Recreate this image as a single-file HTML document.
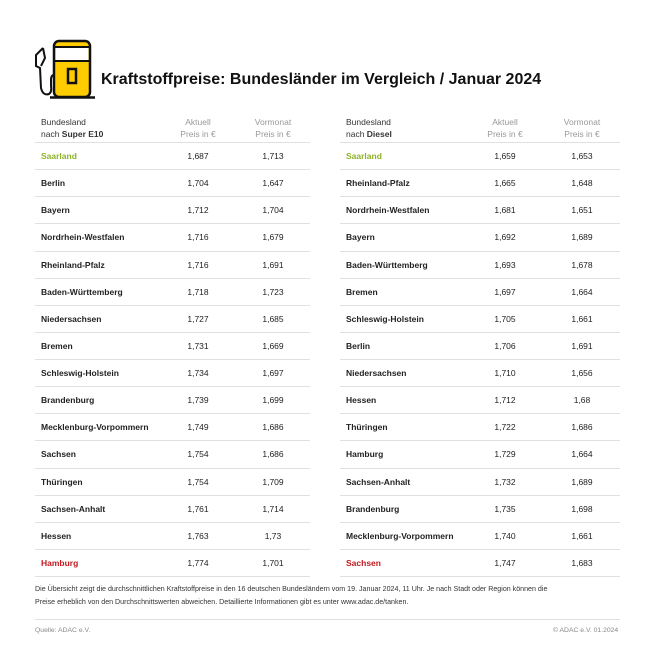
<!DOCTYPE html><html><head><meta charset="utf-8"><style>
body{margin:0;width:668px;height:663px;background:#fff;font-family:"Liberation Sans",sans-serif;color:#222;position:relative;overflow:hidden}
.a{position:absolute;white-space:nowrap}
.h{font-size:8.5px;color:#333;line-height:12px}
.g{color:#999;text-align:center;width:60px}
.n{font-size:8.5px;font-weight:bold}
.v{font-size:8.5px;text-align:center;width:50px}
.l{position:absolute;height:1px;background:#e0e0e0}
</style></head><body>
<svg class="a" style="left:33px;top:38px" width="65" height="65" viewBox="0 0 65 65">
<rect x="21" y="3" width="36" height="56" rx="5" fill="#fc0" stroke="#111" stroke-width="2.5"/>
<rect x="22.5" y="9" width="33" height="14" fill="#fff"/>
<line x1="21" y1="9" x2="57" y2="9" stroke="#111" stroke-width="2"/>
<line x1="21" y1="23" x2="57" y2="23" stroke="#111" stroke-width="2"/>
<rect x="35" y="31" width="8" height="14" fill="none" stroke="#111" stroke-width="2.5"/>
<line x1="17" y1="59.5" x2="62" y2="59.5" stroke="#111" stroke-width="2.5"/>
<path d="M10 10 L3 17 L3 28 L7 30 L8 50 Q10 58 16 56 Q19 54 18 48 L18 42 Q18 37 21 37" fill="none" stroke="#111" stroke-width="2"/>
<path d="M10 10 L12 20 L8 28" fill="none" stroke="#111" stroke-width="2"/>
</svg>
<div class="a" style="left:101px;top:71px;font-size:16px;font-weight:bold;color:#111">Kraftstoffpreise: Bundesländer im Vergleich / Januar 2024</div>

<div class="a h" style="left:41px;top:116px">Bundesland<br>nach <b>Super E10</b></div>
<div class="a h g" style="left:168px;top:116px">Aktuell<br>Preis in €</div>
<div class="a h g" style="left:243px;top:116px">Vormonat<br>Preis in €</div>
<div class="a h" style="left:346px;top:116px">Bundesland<br>nach <b>Diesel</b></div>
<div class="a h g" style="left:475px;top:116px">Aktuell<br>Preis in €</div>
<div class="a h g" style="left:552px;top:116px">Vormonat<br>Preis in €</div>
<div id="t"></div>
<div class="a" style="left:35px;top:583px;font-size:7.1px;line-height:12.5px;color:#333">Die Übersicht zeigt die durchschnittlichen Kraftstoffpreise in den 16 deutschen Bundesländern vom 19. Januar 2024, 11 Uhr. Je nach Stadt oder Region können die<br>Preise erheblich von den Durchschnittswerten abweichen. Detaillierte Informationen gibt es unter www.adac.de/tanken.</div>
<div class="l" style="left:35px;top:619px;width:585px"></div>
<div class="a" style="left:35px;top:627px;font-size:6.8px;color:#888">Quelle: ADAC e.V.</div>
<div class="a" style="left:553px;top:627px;font-size:6.8px;color:#888">© ADAC e.V. 01.2024</div>
<script>
var L=[["Saarland","1,687","1,713"],["Berlin","1,704","1,647"],["Bayern","1,712","1,704"],["Nordrhein-Westfalen","1,716","1,679"],["Rheinland-Pfalz","1,716","1,691"],["Baden-Württemberg","1,718","1,723"],["Niedersachsen","1,727","1,685"],["Bremen","1,731","1,669"],["Schleswig-Holstein","1,734","1,697"],["Brandenburg","1,739","1,699"],["Mecklenburg-Vorpommern","1,749","1,686"],["Sachsen","1,754","1,686"],["Thüringen","1,754","1,709"],["Sachsen-Anhalt","1,761","1,714"],["Hessen","1,763","1,73"],["Hamburg","1,774","1,701"]];
var R=[["Saarland","1,659","1,653"],["Rheinland-Pfalz","1,665","1,648"],["Nordrhein-Westfalen","1,681","1,651"],["Bayern","1,692","1,689"],["Baden-Württemberg","1,693","1,678"],["Bremen","1,697","1,664"],["Schleswig-Holstein","1,705","1,661"],["Berlin","1,706","1,691"],["Niedersachsen","1,710","1,656"],["Hessen","1,712","1,68"],["Thüringen","1,722","1,686"],["Hamburg","1,729","1,664"],["Sachsen-Anhalt","1,732","1,689"],["Brandenburg","1,735","1,698"],["Mecklenburg-Vorpommern","1,740","1,661"],["Sachsen","1,747","1,683"]];
var h="",S=27.13;
function tb(D,x0,w,c1,c2){for(var i=0;i<=16;i++){h+='<div class="l" style="left:'+x0+'px;top:'+Math.round(142+i*S)+'px;width:'+w+'px"></div>';}
D.forEach(function(r,i){var y=Math.round(151+i*S);var col=i==0?"#8fb32a":(i==15?"#c0191f":"#222");
h+='<div class="a n" style="left:'+(x0+6)+'px;top:'+y+'px;color:'+col+'">'+r[0]+'</div>';
h+='<div class="a v" style="left:'+(c1-25)+'px;top:'+y+'px">'+r[1]+'</div>';
h+='<div class="a v" style="left:'+(c2-25)+'px;top:'+y+'px">'+r[2]+'</div>';});}
tb(L,35,275,198,273);tb(R,340,280,505,582);
document.getElementById("t").innerHTML=h;
</script>
</body></html>
